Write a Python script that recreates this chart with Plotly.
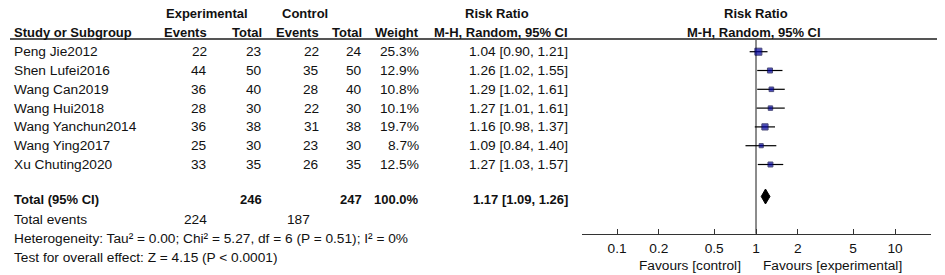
import math
import plotly.graph_objects as go

# ---------------- data ----------------
studies = ["Peng Jie2012", "Shen Lufei2016", "Wang Can2019", "Wang Hui2018",
           "Wang Yanchun2014", "Wang Ying2017", "Xu Chuting2020"]
exp_events = [22, 44, 36, 28, 36, 25, 33]
exp_total = [23, 50, 40, 30, 38, 30, 35]
ctl_events = [22, 35, 28, 22, 31, 23, 26]
ctl_total = [24, 50, 40, 30, 38, 30, 35]
weights = [25.3, 12.9, 10.8, 10.1, 19.7, 8.7, 12.5]
rr = [1.04, 1.26, 1.29, 1.27, 1.16, 1.09, 1.27]
ci_lo = [0.90, 1.02, 1.02, 1.01, 0.98, 0.84, 1.03]
ci_hi = [1.21, 1.55, 1.61, 1.61, 1.37, 1.40, 1.57]
total_exp = 246
total_ctl = 247
total_weight = 100.0
pooled_rr = 1.17
pooled_lo = 1.09
pooled_hi = 1.26
events_exp = 224
events_ctl = 187
het_text = "Heterogeneity: Tau² = 0.00; Chi² = 5.27, df = 6 (P = 0.51); I² = 0%"
test_text = "Test for overall effect: Z = 4.15 (P < 0.0001)"
tick_vals = [0.1, 0.2, 0.5, 1, 2, 5, 10]
tick_labels = ["0.1", "0.2", "0.5", "1", "2", "5", "10"]

# ---------------- layout helpers ----------------
W, H = 945, 275
ROW0, STEP = 51.7, 18.8          # pixel y of first study row, row spacing


def row_of(py):
    return (py - ROW0) / STEP


def px_x(px):
    return px / W


FS = 13.7
FSB = 13
TXT = "#111111"
FONT = "Liberation Sans, Arial, sans-serif"

annotations = []


def ann(text, px, row, anchor="right", bold=False):
    size = FS
    if bold:
        text = "<b>" + text + "</b>"
        size = FSB
    annotations.append(dict(
        text=text, x=px_x(px), xref="paper", y=row, yref="y",
        xanchor=anchor, yanchor="middle", showarrow=False, borderpad=0,
        font=dict(family=FONT, size=size, color=TXT)))


# column right edges (px)
C_NAME = 12.5
C_EE, C_ET, C_CE, C_CT, C_W, C_RR = 208, 263, 319.5, 363, 420, 568.5

H1 = row_of(13.3)
H2 = row_of(32.3)
ann("Experimental", 207, H1, "center", True)
ann("Control", 305, H1, "center", True)
ann("Risk Ratio", 497, H1, "center", True)
ann("Risk Ratio", 756, H1, "center", True)
ann("Study or Subgroup", C_NAME, H2, "left", True)
ann("Events", C_EE, H2, "right", True)
ann("Total", C_ET, H2, "right", True)
ann("Events", C_CE, H2, "right", True)
ann("Total", C_CT, H2, "right", True)
ann("Weight", C_W, H2, "right", True)
ann("M-H, Random, 95% CI", C_RR, H2, "right", True)
ann("M-H, Random, 95% CI", 754, H2, "center", True)

for i, s in enumerate(studies):
    ann(s, C_NAME, i, "left")
    ann(str(exp_events[i]), C_EE, i)
    ann(str(exp_total[i]), C_ET, i)
    ann(str(ctl_events[i]), C_CE, i)
    ann(str(ctl_total[i]), C_CT, i)
    ann(f"{weights[i]:.1f}%", C_W, i)
    ann(f"{rr[i]:.2f} [{ci_lo[i]:.2f}, {ci_hi[i]:.2f}]", C_RR, i)

TOT = row_of(199.5)
ann("Total (95% CI)", C_NAME, TOT, "left", True)
ann(str(total_exp), C_ET, TOT, "right", True)
ann(str(total_ctl), C_CT, TOT, "right", True)
ann(f"{total_weight:.1f}%", C_W, TOT, "right", True)
ann(f"{pooled_rr:.2f} [{pooled_lo:.2f}, {pooled_hi:.2f}]", C_RR, TOT, "right", True)

EV = row_of(219)
ann("Total events", C_NAME, EV, "left")
ann(str(events_exp), C_EE, EV)
ann(str(events_ctl), 311, EV)
ann(het_text, C_NAME, row_of(238.5), "left")
ann(test_text, C_NAME, row_of(257.5), "left")

FAV = row_of(265)
ann("Favours [control]", 742, FAV, "right")
ann("Favours [experimental]", 762, FAV, "left")

# ---------------- traces ----------------
fig = go.Figure()

AX_Y = 233.7
TOP_Y = 39

fig.add_trace(go.Scatter(
    x=[1, 1], y=[row_of(TOP_Y), row_of(AX_Y)], mode="lines",
    line=dict(color="#666666", width=1.5), hoverinfo="skip", cliponaxis=False))

fig.add_trace(go.Scatter(
    x=rr, y=list(range(len(studies))), mode="markers",
    marker=dict(symbol="square", size=[1.4 * math.sqrt(w) for w in weights],
                color="#0000a0", line=dict(color="#000040", width=1)),
    error_x=dict(type="data", symmetric=False,
                 array=[h - r for h, r in zip(ci_hi, rr)],
                 arrayminus=[r - l for r, l in zip(rr, ci_lo)],
                 color="#000000", thickness=1.2, width=0),
    cliponaxis=False, hoverinfo="skip"))

DROW = row_of(196.5)
DH = 7.5 / STEP
fig.add_trace(go.Scatter(
    x=[pooled_lo, pooled_rr, pooled_hi, pooled_rr, pooled_lo],
    y=[DROW, DROW - DH, DROW, DROW + DH, DROW],
    mode="lines", fill="toself", fillcolor="#000000",
    line=dict(color="#000000", width=1), hoverinfo="skip", cliponaxis=False))

# header rule
shapes = [dict(type="line", xref="paper", yref="y", x0=px_x(10), x1=px_x(937),
               y0=row_of(TOP_Y), y1=row_of(TOP_Y),
               line=dict(color="#555555", width=2))]

fig.update_layout(
    width=W, height=H, margin=dict(l=0, r=0, t=0, b=0),
    paper_bgcolor="white", plot_bgcolor="white", showlegend=False,
    annotations=annotations, shapes=shapes,
    xaxis=dict(type="log", domain=[px_x(582), px_x(931)],
               range=[-1.252, 1.259], anchor="free",
               position=(H - AX_Y) / H,
               showline=True, linecolor="#333333", linewidth=1,
               ticks="inside", ticklen=5, tickwidth=1, tickcolor="#333333",
               tickvals=tick_vals, ticktext=tick_labels,
               showgrid=False, zeroline=False, ticklabelstandoff=2,
               tickfont=dict(family=FONT, size=FS, color=TXT)),
    yaxis=dict(domain=[0, 1], range=[row_of(H), row_of(0)],
               visible=False, showgrid=False, zeroline=False),
)

fig.write_html("out.html", config={"displayModeBar": False},
               post_script="document.body.style.margin='0';")
